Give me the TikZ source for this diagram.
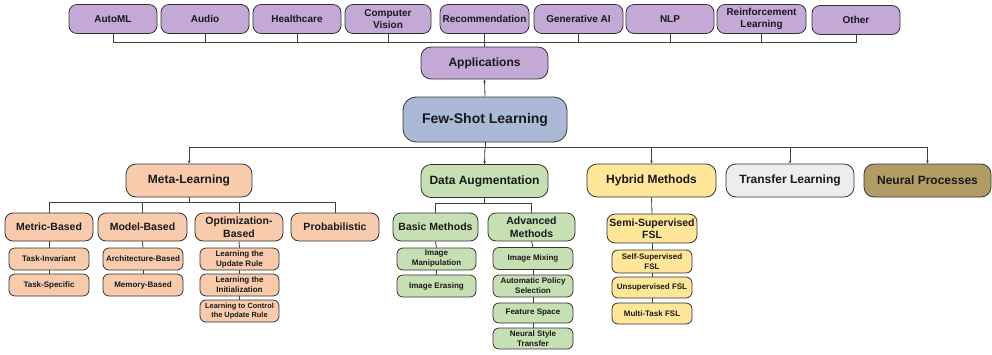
\documentclass[tikz,border=0pt]{standalone}
\usepackage{fontspec}
\setmainfont{Liberation Sans}
\usetikzlibrary{arrows.meta}
\definecolor{purp}{RGB}{196,169,215}
\definecolor{fslc}{RGB}{172,185,214}
\definecolor{peach}{RGB}{248,203,173}
\definecolor{greenc}{RGB}{198,224,180}
\definecolor{yell}{RGB}{255,230,153}
\definecolor{grayc}{RGB}{237,237,237}
\definecolor{olive}{RGB}{176,156,100}
\tikzset{
  box/.style={draw=black!80, line width=0.8pt, align=center, inner sep=0pt, text=black!90},
  appbox/.style={box, fill=purp, minimum width=88, minimum height=29, rounded corners=8pt, font=\bfseries\fontsize{10}{12.5}\selectfont},
  lvone/.style={box, minimum width=127, minimum height=33, rounded corners=10pt, font=\bfseries\fontsize{12}{14}\selectfont},
  lvtwo/.style={box, minimum width=88, minimum height=28, rounded corners=8pt, font=\bfseries\fontsize{10.5}{12.5}\selectfont},
  lvthree/.style={box, minimum width=80, minimum height=22, rounded corners=6pt, font=\bfseries\fontsize{8}{10}\selectfont},
  conn/.style={draw=black!75, line width=0.8pt},
  arr/.style={conn, -{Stealth[length=3pt,width=2.6pt]}}
}
\begin{document}
\begin{tikzpicture}[x=1pt,y=-1pt]
\useasboundingbox (0,0) rectangle (992,354);
% connectors first (behind boxes)
\coordinate (tb) at (484.5,42);
\coordinate (fb) at (485,147);
\coordinate (mb) at (189,202);
\coordinate (db) at (484.5,203);
% top row
\node[appbox] (automl) at (113,19) {AutoML};
\node[appbox] (audio) at (205,19) {Audio};
\node[appbox] (health) at (297,19) {Healthcare};
\node[appbox, minimum width=86] (cv) at (388,19) {Computer\\Vision};
\node[appbox, minimum width=89] (rec) at (484.5,19) {Recommendation};
\node[appbox, minimum width=89] (gen) at (578.5,19) {Generative AI};
\node[appbox] (nlp) at (670,19) {NLP};
\node[appbox, minimum width=89] (rl) at (761.5,19) {Reinforcement\\Learning};
\node[appbox] (other) at (856,20) {Other};
% applications and FSL
\node[box, fill=purp, minimum width=127, minimum height=32, rounded corners=10pt, font=\bfseries\fontsize{12}{14}\selectfont] (app) at (484.5,63) {Applications};
\node[box, fill=fslc, minimum width=164, minimum height=45, rounded corners=13pt, font=\bfseries\fontsize{14}{16}\selectfont] (fsl) at (485,119.5) {Few-Shot Learning};
% level 1
\node[lvone, fill=peach, minimum width=126] (meta) at (189,180.5) {Meta-Learning};
\node[lvone, fill=greenc] (da) at (484.5,181) {Data Augmentation};
\node[lvone, fill=yell, minimum width=129] (hyb) at (651.5,180.5) {Hybrid Methods};
\node[lvone, fill=grayc, minimum width=128] (tl) at (790,180.5) {Transfer Learning};
\node[lvone, fill=olive] (np) at (927.5,180.5) {Neural Processes};
% meta level 2
\node[lvtwo, fill=peach] (metric) at (49,227) {Metric-Based};
\node[lvtwo, fill=peach, minimum width=89] (model) at (142.5,227) {Model-Based};
\node[lvtwo, fill=peach] (opt) at (239,227) {Optimization-\\Based};
\node[lvtwo, fill=peach] (prob) at (335,227) {Probabilistic};
% meta level 3
\node[lvthree, fill=peach] (tinv) at (49,259) {Task-Invariant};
\node[lvthree, fill=peach] (tspec) at (49,285) {Task-Specific};
\node[lvthree, fill=peach] (arch) at (143,259) {Architecture-Based};
\node[lvthree, fill=peach] (mem) at (143,285) {Memory-Based};
\node[lvthree, fill=peach, minimum width=79] (lur) at (239.5,259) {Learning the\\Update Rule};
\node[lvthree, fill=peach, minimum width=79] (linit) at (239.5,285) {Learning the\\Initialization};
\node[lvthree, fill=peach, minimum width=79, font=\bfseries\fontsize{7.4}{9.5}\selectfont] (lctrl) at (239.5,311) {Learning to Control\\the Update Rule};
% data augmentation
\node[lvtwo, fill=greenc, minimum width=85] (basic) at (435.5,227) {Basic Methods};
\node[lvtwo, fill=greenc, minimum width=87] (adv) at (531.5,227) {Advanced\\Methods};
\node[lvthree, fill=greenc, minimum width=79] (imanip) at (436.5,259) {Image\\Manipulation};
\node[lvthree, fill=greenc, minimum width=79] (ierase) at (436.5,286) {Image Erasing};
\node[lvthree, fill=greenc] (imix) at (533,258.5) {Image Mixing};
\node[lvthree, fill=greenc] (apol) at (533,286) {Automatic Policy\\Selection};
\node[lvthree, fill=greenc, minimum height=20] (fspace) at (533,313) {Feature Space};
\node[lvthree, fill=greenc, minimum height=21] (nst) at (533,338.5) {Neural Style\\Transfer};
% hybrid
\node[lvtwo, fill=yell, minimum width=90, minimum height=29] (semi) at (652,228.5) {Semi-Supervised\\FSL};
\node[lvthree, fill=yell, minimum height=23] (self) at (652,261.5) {Self-Supervised\\FSL};
\node[lvthree, fill=yell, minimum height=21] (unsup) at (652,287.5) {Unsupervised FSL};
\node[lvthree, fill=yell, minimum height=21] (multi) at (652,313.5) {Multi-Task FSL};
% connectors: top
\draw[conn] (rec.south) -- (app.north);
\foreach \n in {automl,audio,health,cv,gen,nlp,rl,other} \draw[conn] (tb) -| (\n.south);
\draw[arr] (fsl.north) -- (app.south);
% FSL bus
\draw[conn] (fsl.south) -- (fb);
\foreach \n in {meta,hyb,tl,np} \draw[arr] (fb) -| (\n.north);
\draw[arr] (fb) -- (da.north);
% meta bus
\draw[conn] (meta.south) -- (mb);
\foreach \n in {metric,model,opt,prob} \draw[conn] (mb) -| (\n.north);
\draw[conn] (metric.south) -- (tinv.north);
\draw[conn] (tinv.south) -- (tspec.north);
\draw[conn] (model.south) -- (arch.north);
\draw[conn] (arch.south) -- (mem.north);
\draw[conn] (opt.south) -- (lur.north);
\draw[conn] (lur.south) -- (linit.north);
\draw[conn] (linit.south) -- (lctrl.north);
% DA bus
\draw[conn] (da.south) -- (db);
\draw[conn] (db) -| (basic.north);
\draw[conn] (db) -| (adv.north);
\draw[conn] (basic.south) -- (imanip.north);
\draw[conn] (imanip.south) -- (ierase.north);
\draw[conn] (adv.south) -- (imix.north);
\draw[conn] (imix.south) -- (apol.north);
\draw[conn] (apol.south) -- (fspace.north);
\draw[conn] (fspace.south) -- (nst.north);
% hybrid chain
\draw[conn] (hyb.south) -- (semi.north);
\draw[conn] (semi.south) -- (self.north);
\draw[conn] (self.south) -- (unsup.north);
\draw[conn] (unsup.south) -- (multi.north);
\end{tikzpicture}
\end{document}
